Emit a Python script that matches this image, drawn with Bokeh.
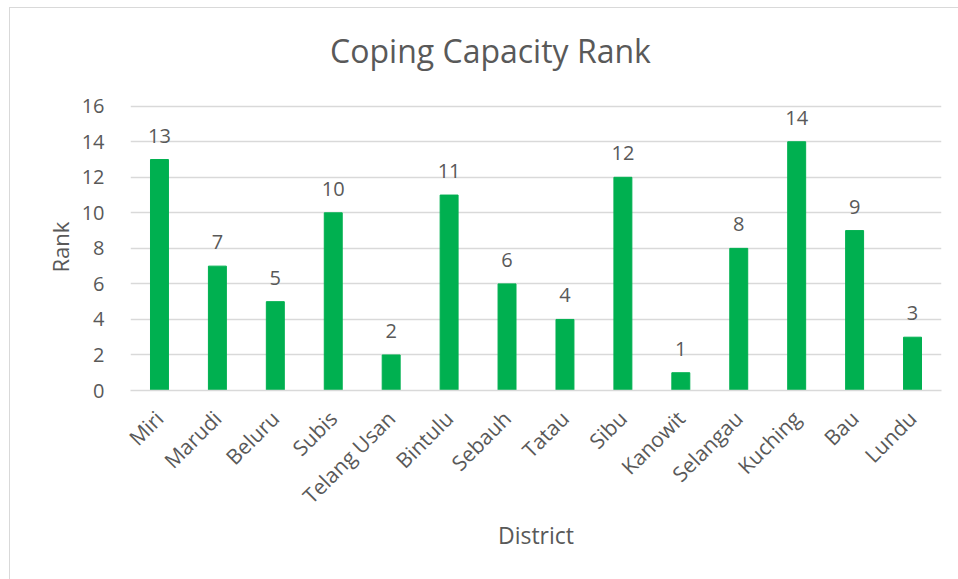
from bokeh.plotting import figure
from bokeh.models import FactorRange, Range1d, FixedTicker, ColumnDataSource, LabelSet, Label, Title
from bokeh.core.properties import value
from bokeh.embed import file_html
from bokeh.resources import INLINE
import math

districts = ["Miri", "Marudi", "Beluru", "Subis", "Telang Usan", "Bintulu", "Sebauh",
             "Tatau", "Sibu", "Kanowit", "Selangau", "Kuching", "Bau", "Lundu"]
ranks = [13, 7, 5, 10, 2, 11, 6, 4, 12, 1, 8, 14, 9, 3]
y_ticks = [0, 2, 4, 6, 8, 10, 12, 14, 16]

FONT = "Open Sans"
TXT = "#595959"

src = ColumnDataSource(dict(d=districts, r=ranks, t=[str(v) for v in ranks]))

# the frame is extended upward (no axis line, ticks end at 16) so the title fits inside it
p = figure(width=949, height=572, x_range=FactorRange(factors=districts),
           y_range=Range1d(0, 21.5), output_backend="svg", toolbar_location=None,
           min_border_left=120, min_border_right=18, min_border_top=0,
           min_border_bottom=190, margin=(7, 0, 0, 9),
           styles={"border-top": "1.5px solid #d9d9d9", "border-left": "1.5px solid #d9d9d9"})
p.title = None
p.outline_line_color = None
p.background_fill_color = "white"
p.border_fill_color = "white"

p.vbar(x="d", top="r", width=0.31, source=src, fill_color="#00B050", line_color="#00B050")

labels = LabelSet(x="d", y="r", text="t", source=src, text_align="center",
                  text_baseline="bottom", y_offset=17, text_font=value(FONT),
                  text_font_size=value("20px"), text_color=value(TXT))
p.add_layout(labels)

# screen units are measured from the frame's lower-left corner
title = Label(x=360, y=340, x_units="screen", y_units="screen", text="Coping Capacity Rank",
              text_align="center", text_baseline="middle", text_font=FONT,
              text_font_size="32px", text_color=TXT)
p.add_layout(title)

p.yaxis.ticker = FixedTicker(ticks=y_ticks)
p.ygrid.ticker = FixedTicker(ticks=y_ticks)
p.xgrid.grid_line_color = None
p.ygrid.grid_line_color = "#d9d9d9"
p.ygrid.grid_line_width = 1.5

p.yaxis.axis_line_color = None
p.yaxis.major_tick_line_color = None
p.yaxis.minor_tick_line_color = None
p.yaxis.major_label_standoff = 20
p.yaxis.major_label_text_font = FONT
p.yaxis.major_label_text_font_size = "20px"
p.yaxis.major_label_text_color = TXT

# y-axis title, centred on the 0-16 part of the axis
ylab = Title(text="Rank", align="left", offset=118, text_font=FONT, text_font_size="22px",
             text_font_style="normal", text_color=TXT, standoff=8)
p.add_layout(ylab, "left")

p.xaxis.axis_line_color = "#d9d9d9"
p.xaxis.axis_line_width = 1.5
p.xaxis.major_tick_line_color = None
p.xaxis.minor_tick_line_color = None
p.xaxis.major_label_orientation = math.pi / 4
p.xaxis.major_label_standoff = 18
p.xaxis.major_label_text_font = FONT
p.xaxis.major_label_text_font_size = "21px"
p.xaxis.major_label_text_color = TXT
p.xaxis.axis_label = "District"
p.xaxis.axis_label_text_font = FONT
p.xaxis.axis_label_text_font_size = "23px"
p.xaxis.axis_label_text_font_style = "normal"
p.xaxis.axis_label_text_color = TXT
p.xaxis.axis_label_standoff = -3

open("out.html", "w").write(file_html(p, INLINE))
